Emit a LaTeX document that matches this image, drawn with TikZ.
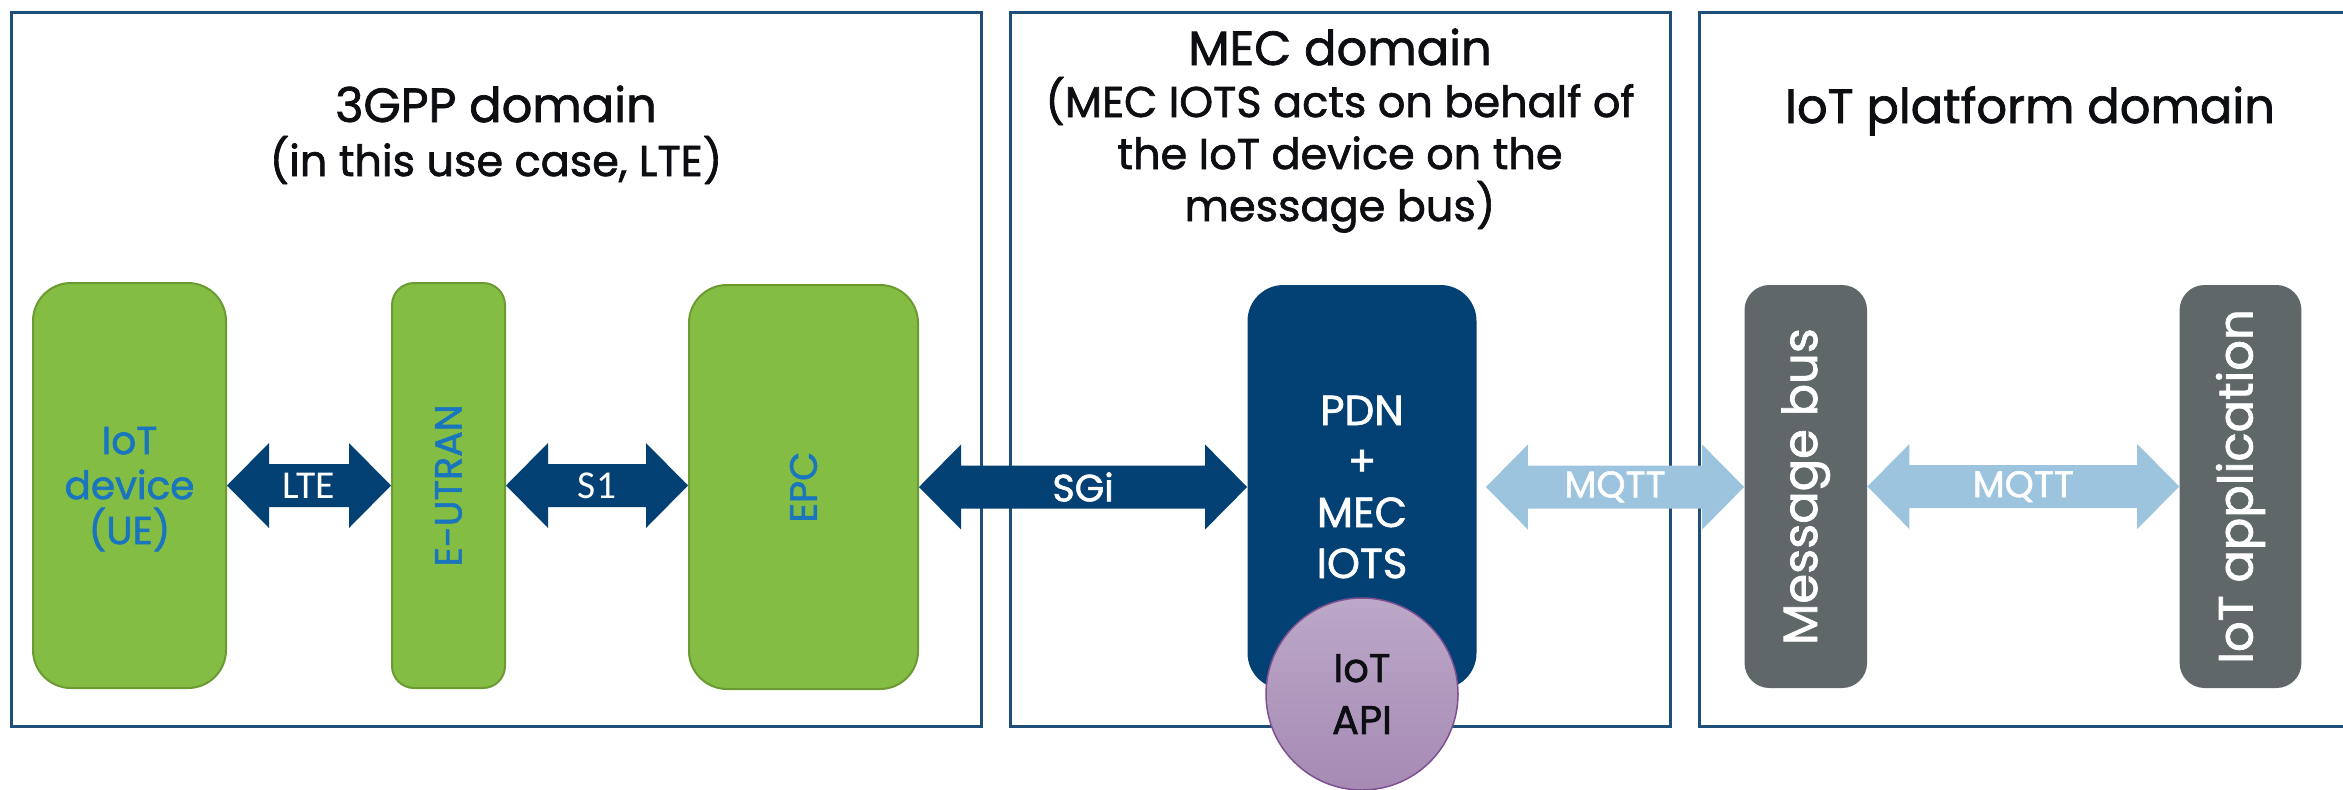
\documentclass[tikz,border=0pt]{standalone}
\usepackage{fontspec}
\setmainfont{Poppins}[FakeBold=1.5]
\newfontfamily\carlitofont{Carlito}
\usetikzlibrary{calc}
\definecolor{framecol}{RGB}{31,78,121}
\definecolor{navy}{RGB}{3,64,115}
\definecolor{lgreen}{RGB}{132,189,67}
\definecolor{dgreen}{RGB}{108,154,50}
\definecolor{txtblue}{RGB}{25,118,190}
\definecolor{lblue}{RGB}{157,196,222}
\definecolor{slate}{RGB}{95,103,105}
\definecolor{puptop}{RGB}{188,168,200}
\definecolor{pupbot}{RGB}{166,138,180}
\definecolor{pupborder}{RGB}{125,80,145}
\definecolor{titleblack}{RGB}{12,14,18}
\newcommand\blockarrow[3]{%
  \fill[#3] let \p1=(#1), \p2=(#2) in
   (\x1,\y1) -- (\x1+21pt,\y1+21.25pt) -- (\x1+21pt,\y1+10.75pt)
   -- (\x2-21pt,\y1+10.75pt) -- (\x2-21pt,\y1+21.25pt) -- (\x2,\y1)
   -- (\x2-21pt,\y1-21.25pt) -- (\x2-21pt,\y1-10.75pt)
   -- (\x1+21pt,\y1-10.75pt) -- (\x1+21pt,\y1-21.25pt) -- cycle;}
\tikzset{
 domainframe/.style={draw=framecol, line width=1.5pt, inner sep=0pt, minimum height=357pt},
 greenbox/.style={fill=lgreen, draw=dgreen, line width=1pt, inner sep=0pt, text=txtblue, align=center},
 navybox/.style={fill=navy, inner sep=0pt, text=white, align=center},
 slatebox/.style={fill=slate, inner sep=0pt, text=white},
 titletext/.style={align=center, inner sep=0pt, text=titleblack},
 arrowlbl/.style={text=white, inner sep=0pt},
}
\begin{document}
\begin{tikzpicture}[x=0.5pt,y=-0.5pt]
\useasboundingbox (0,0) rectangle (2343,789);
\clip (0,0) rectangle (2343,789);
% domain frames
\node[domainframe, minimum width=484.75pt] (f3gpp) at (496.25,369) {};
\node[domainframe, minimum width=330pt] (fmec) at (1340,369) {};
\node[domainframe, minimum width=330.25pt] (fiot) at (2029.75,369) {};
% titles (base anchor = last line)
\node[titletext, anchor=base, font=\fontsize{21.5pt}{27pt}\selectfont] (t3gpp) at (496,176)
  {{\fontsize{24pt}{27pt}\selectfont 3GPP domain}\\(in this use case, LTE)};
\node[titletext, anchor=base, font=\fontsize{21.5pt}{26pt}\selectfont] (tmec) at (1340,221)
  {{\fontsize{24pt}{26pt}\selectfont MEC domain}\\(MEC IOTS acts on behalf of\\the IoT device on the\\message bus)};
\node[titletext, anchor=base, font=\fontsize{24pt}{27pt}\selectfont] (tiot) at (2030,123)
  {IoT platform domain};
% boxes
\node[greenbox, rounded corners=19pt, minimum width=96.5pt, minimum height=202.5pt, text depth=0pt,
  font=\fontsize{19.5pt}{22.5pt}\selectfont] (iot) at (129.5,485.5) {IoT\\device\\(UE)};
\node[greenbox, rounded corners=11pt, minimum width=56.5pt, minimum height=202.5pt,
  font=\fontsize{19pt}{23pt}\selectfont] (eutran) at (448.5,485.5) {\rotatebox{90}{E-UTRAN}};
\node[greenbox, rounded corners=19pt, minimum width=114.5pt, minimum height=202pt,
  font=\fontsize{19pt}{23pt}\selectfont] (epc) at (803.5,487) {\rotatebox{90}{EPC}};
\node[navybox, rounded corners=18pt, minimum width=114.5pt, minimum height=202pt,
  font=\fontsize{21pt}{25.5pt}\selectfont] (pdn) at (1362,487) {PDN\\+\\MEC\\IOTS};
\node[slatebox, rounded corners=12.5pt, minimum width=61.25pt, minimum height=201.5pt,
  font=\fontsize{24pt}{28pt}\selectfont] (msgbus) at (1805.75,486.5) {\rotatebox{90}{Message bus}};
\node[slatebox, rounded corners=12.5pt, minimum width=60.9pt, minimum height=201.5pt,
  font=\fontsize{24pt}{28pt}\selectfont] (iotapp) at (2240.5,486.5) {\rotatebox{90}{IoT application}};
% block arrows
\blockarrow{iot.east}{eutran.west}{navy}
\blockarrow{eutran.east}{epc.west}{navy}
\blockarrow{epc.east}{pdn.west}{navy}
\blockarrow{[xshift=4.5pt]pdn.east}{msgbus.west}{lblue}
\blockarrow{msgbus.east}{iotapp.west}{lblue}
\node[arrowlbl, font=\carlitofont\fontsize{19.75pt}{23pt}\selectfont] (llte) at ($(iot.east)!0.5!(eutran.west)$) {LTE};
\node[arrowlbl, font=\carlitofont\fontsize{19.75pt}{23pt}\selectfont] (ls1) at ($(eutran.east)!0.5!(epc.west)$) {S1};
\node[arrowlbl, font=\fontsize{19pt}{22pt}\selectfont] (lsgi) at ($(epc.east)!0.5!(pdn.west)$) {SGi};
\node[arrowlbl, font=\fontsize{18.5pt}{22pt}\selectfont] (lmqtt1) at ($([xshift=4.5pt]pdn.east)!0.5!(msgbus.west)$) {MQTT};
\node[arrowlbl, font=\fontsize{18.5pt}{22pt}\selectfont] (lmqtt2) at ($(msgbus.east)!0.5!(iotapp.west)$) {MQTT};
% IoT API circle
\node[circle, minimum size=96pt, inner sep=0pt, top color=puptop, bottom color=pupbot,
  draw=pupborder, line width=0.75pt, align=center, text=titleblack,
  font=\fontsize{20pt}{26pt}\selectfont] (api) at (1362,694) {IoT\\API};
\end{tikzpicture}
\end{document}
